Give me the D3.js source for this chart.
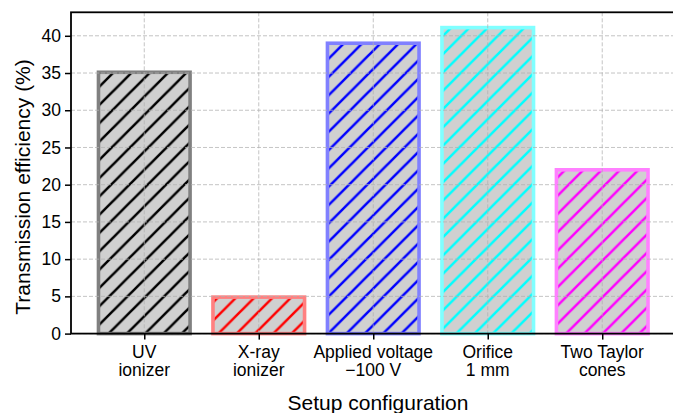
<!DOCTYPE html>
<html>
<head>
<meta charset="utf-8">
<script src="https://cdn.jsdelivr.net/npm/d3@7"></script>
<style>
  body { margin: 0; background: #fff; }
  svg { display: block; font-family: "Liberation Sans", Arial, sans-serif; }
</style>
</head>
<body>
<div id="chart"></div>
<script>
// chart data
const categories = ["UV\nionizer", "X-ray\nionizer", "Applied voltage\n\u2212100 V", "Orifice\n1 mm", "Two Taylor\ncones"];
const efficiency = [35.1, 4.9, 39.0, 41.1, 22.0];
const hatchColors = ["#000000", "#ff0000", "#0000ff", "#00ffff", "#ff00ff"];
const edgeColors = ["#808080", "#ff8080", "#8080ff", "#80ffff", "#ff80ff"];
const yTicks = [0, 5, 10, 15, 20, 25, 30, 35, 40];

const width = 673, height = 413;
const plotLeft = 71, plotRight = 675.5, plotTop = 12.3, plotBottom = 333.6;

const svg = d3.select("#chart").append("svg")
  .attr("width", width)
  .attr("height", height);

const x = d3.scaleLinear().domain([-0.64, categories.length - 1 + 0.64]).range([plotLeft, plotRight]);
const y = d3.scaleLinear().domain([0, d3.max(efficiency) * 1.05]).range([plotBottom, plotTop]);
const barW = 0.8;

// hatch patterns, one per colour, in page space so stripes line up
const defs = svg.append("defs");
const p = 18.3;
hatchColors.forEach((c, i) => {
  const pat = defs.append("pattern")
    .attr("id", "hatch" + i)
    .attr("patternUnits", "userSpaceOnUse")
    .attr("x", 3)
    .attr("width", p)
    .attr("height", p);
  pat.append("path")
    .attr("d", `M${-p/4},${p/4} L${p/4},${-p/4} M0,${p} L${p},0 M${p*0.75},${p*1.25} L${p*1.25},${p*0.75}`)
    .attr("stroke", c)
    .attr("stroke-width", 2.5);
});

const bars = svg.append("g").selectAll("g")
  .data(efficiency)
  .enter().append("g");

bars.append("rect")
  .attr("x", (d, i) => x(i - barW / 2))
  .attr("y", d => y(d))
  .attr("width", (d, i) => x(i + barW / 2) - x(i - barW / 2))
  .attr("height", d => y(0) - y(d))
  .attr("fill", "#d0d0d0");

bars.append("rect")
  .attr("x", (d, i) => x(i - barW / 2))
  .attr("y", d => y(d))
  .attr("width", (d, i) => x(i + barW / 2) - x(i - barW / 2))
  .attr("height", d => y(0) - y(d))
  .attr("fill", (d, i) => `url(#hatch${i})`)
  .attr("stroke", (d, i) => edgeColors[i])
  .attr("stroke-width", 3.6);

// dashed grid on top of bars
const grid = svg.append("g")
  .attr("stroke", "#b0b0b0")
  .attr("stroke-opacity", 0.75)
  .attr("stroke-width", 1)
  .attr("stroke-dasharray", "4,2");
grid.selectAll(".gy").data(yTicks).enter().append("line")
  .attr("x1", plotLeft).attr("x2", plotRight)
  .attr("y1", d => y(d)).attr("y2", d => y(d));
grid.selectAll(".gx").data(categories).enter().append("line")
  .attr("x1", (d, i) => x(i)).attr("x2", (d, i) => x(i))
  .attr("y1", plotTop).attr("y2", plotBottom);

// axes
const yAxis = d3.axisLeft(y).tickValues(yTicks).tickSize(6).tickPadding(4);
const yG = svg.append("g")
  .attr("transform", `translate(${plotLeft},0)`)
  .call(yAxis);
yG.select(".domain").remove();
yG.selectAll(".tick line").attr("stroke", "#000").attr("stroke-width", 1.5);
yG.selectAll(".tick text").attr("font-size", 17.5).attr("fill", "#000")
  .attr("font-family", "Liberation Sans, Arial, sans-serif");

const xAxis = d3.axisBottom(x).tickValues(d3.range(categories.length)).tickSize(6).tickFormat("");
const xG = svg.append("g")
  .attr("transform", `translate(0,${plotBottom})`)
  .call(xAxis);
xG.select(".domain").remove();
xG.selectAll(".tick line").attr("stroke", "#000").attr("stroke-width", 1.5);

const xLabels = svg.append("g")
  .attr("font-size", 17.5)
  .attr("text-anchor", "middle")
  .attr("fill", "#000");
categories.forEach((c, i) => {
  const t = xLabels.append("text")
    .attr("x", x(i))
    .attr("y", 358);
  c.split("\n").forEach((line, k) => {
    t.append("tspan").attr("x", x(i)).attr("dy", k === 0 ? 0 : 18).text(line);
  });
});

// spines
svg.append("rect")
  .attr("x", plotLeft).attr("y", plotTop)
  .attr("width", plotRight - plotLeft).attr("height", plotBottom - plotTop)
  .attr("fill", "none")
  .attr("stroke", "#000")
  .attr("stroke-width", 1.8);

svg.append("text")
  .attr("x", 378)
  .attr("y", 410)
  .attr("text-anchor", "middle")
  .attr("font-size", 21)
  .text("Setup configuration");

svg.append("text")
  .attr("transform", "translate(29.5,187) rotate(-90)")
  .attr("text-anchor", "middle")
  .attr("font-size", 21)
  .text("Transmission efficiency (%)");
</script>
</body>
</html>
